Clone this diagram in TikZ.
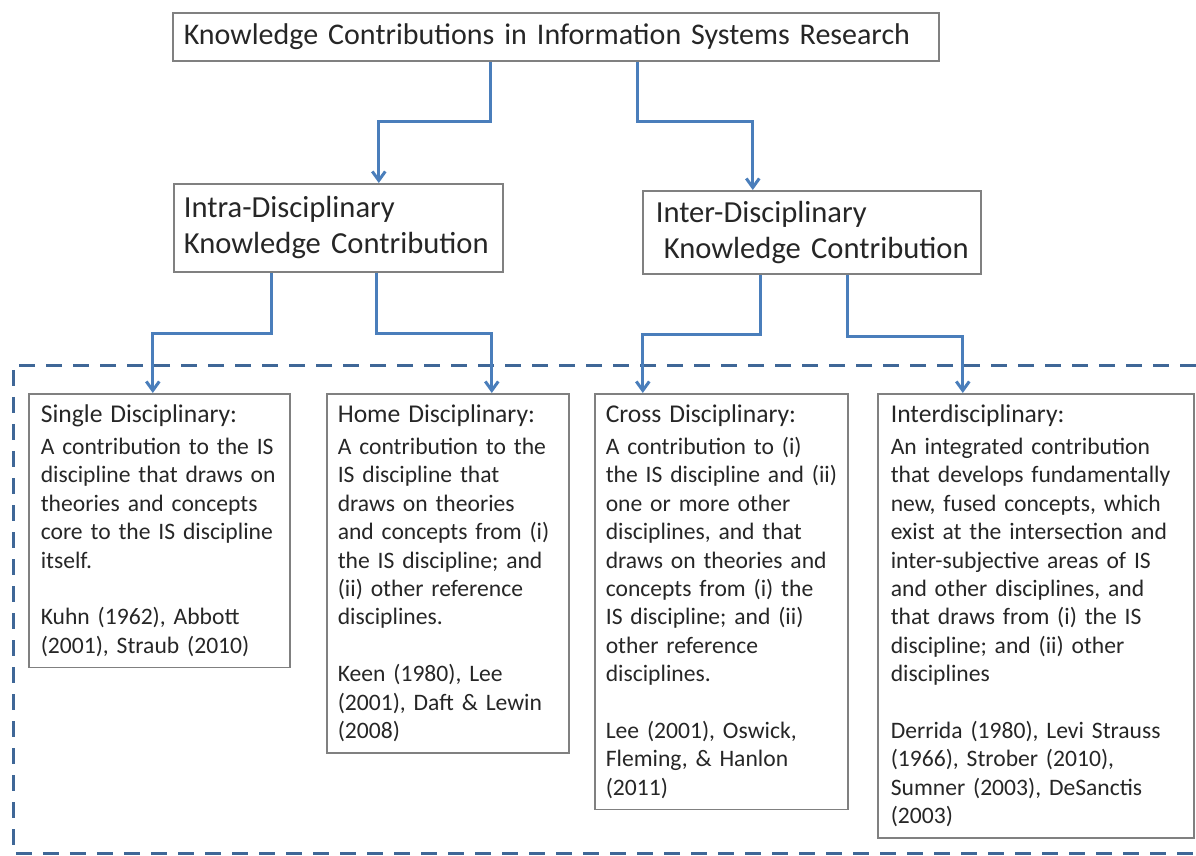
\documentclass[tikz,border=0pt]{standalone}
\usepackage{fontspec}
\setmainfont{Carlito}
\usetikzlibrary{arrows.meta,calc}
\definecolor{linkblue}{HTML}{4A7EBB}
\definecolor{frameblue}{HTML}{3F6797}
\definecolor{boxgray}{HTML}{808080}
\tikzset{
  box/.style={draw=boxgray, line width=0.8pt, anchor=north west, align=left, text=black!85,
    inner ysep=5.5pt, execute at begin node={\hyphenpenalty=10000}},
  mainbox/.style={box, font=\fontsize{15.3}{18}\selectfont, inner ysep=0pt},
  leafbox/.style={box, font=\fontsize{11.8}{14.2}\selectfont},
  link/.style={draw=linkblue, line width=1.5pt, -{Straight Barb[length=4.5pt,width=6.5pt]}},
}
\newcommand{\leafhead}[1]{{\fontsize{12.8}{14.2}\selectfont #1}\\[1.8pt]}
\begin{document}
\begin{tikzpicture}[x=0.5pt,y=-0.5pt]
\useasboundingbox (0,0) rectangle (1196,856);
% dashed frame round the four kinds, open on the right
\draw[frameblue, line width=1.5pt, dash pattern=on 8pt off 5.5pt]
  (1196,365) -- (13,365) -- (13,853) -- (1196,853);
% top level
\node[mainbox, font=\fontsize{15}{18}\selectfont, inner xsep=5.5pt, text width=372pt,
  minimum height=24pt] (kc) at (172,12)
  {Knowledge Contributions in Information Systems Research};
% second level
\node[mainbox, inner xsep=5pt, text width=154.5pt, minimum height=44pt] (intra) at (173,183)
  {Intra-Disciplinary\\Knowledge~Contribution};
\node[mainbox, inner xsep=6.5pt, text width=156pt, minimum height=41.5pt] (inter) at (642,190)
  {Inter-Disciplinary\\\hspace*{4pt}Knowledge~Contribution};
% third level
\node[leafbox, inner xsep=6pt, text width=118.5pt] (single) at (28,393)
  {\leafhead{Single Disciplinary:}
   A contribution to the IS\\ discipline that draws~on\\ theories and concepts\\
   core to the IS discipline\\ itself.\\[\baselineskip]
   Kuhn (1962), Abbott\\ (2001), Straub (2010)};
\node[leafbox, inner xsep=5.5pt, text width=110pt] (home) at (326,393)
  {\leafhead{Home Disciplinary:}
   A contribution to the\\ IS discipline that\\ draws on theories\\
   and concepts from~(i)\\ the IS discipline; and\\ (ii) other reference\\
   disciplines.\\[\baselineskip]
   Keen (1980), Lee\\ (2001), Daft \& Lewin\\ (2008)};
\node[leafbox, inner xsep=5.5pt, text width=115.5pt] (cross) at (594,393)
  {\leafhead{Cross Disciplinary:}
   A contribution to (i)\\ \mbox{the IS discipline and (ii)}\\ one or more other\\
   disciplines, and that\\ draws on theories and\\ concepts from (i) the\\
   IS discipline; and (ii)\\ other reference\\ disciplines.\\[\baselineskip]
   Lee (2001), Oswick,\\ Fleming, \& Hanlon\\ (2011)};
\node[leafbox, inner xsep=6.5pt, text width=145pt] (interd) at (877,393)
  {\leafhead{Interdisciplinary:}
   An integrated contribution\\ that develops fundamentally\\
   new, fused concepts, which\\ exist at the intersection and\\
   inter-subjective areas of IS\\ and other disciplines, and\\
   that draws from (i) the IS\\ discipline; and (ii) other\\
   disciplines\\[\baselineskip]
   Derrida (1980), Levi Strauss\\ (1966), Strober (2010),\\
   Sumner (2003), DeSanctis\\ (2003)};
% connectors
\draw[link] ($(kc.south)+(-65,0)$) -- ++(0,60) -| ($(intra.north)+(40.5,0)$);
\draw[link] ($(kc.south)+(82,0)$) -- ++(0,60) -| ($(inter.north)+(-59,0)$);
\draw[link] ($(intra.south)+(-66.5,0)$) -- ++(0,61) -| ($(single.north)+(-6.5,0)$);
\draw[link] ($(intra.south)+(38.5,0)$) -- ++(0,61) -| ($(home.north)+(44,0)$);
\draw[link] ($(inter.south)+(-51,0)$) -- ++(0,60) -| ($(cross.north)+(-78.5,0)$);
\draw[link] ($(inter.south)+(36,0)$) -- ++(0,62) -| ($(interd.north)+(-73,0)$);
\end{tikzpicture}
\end{document}
